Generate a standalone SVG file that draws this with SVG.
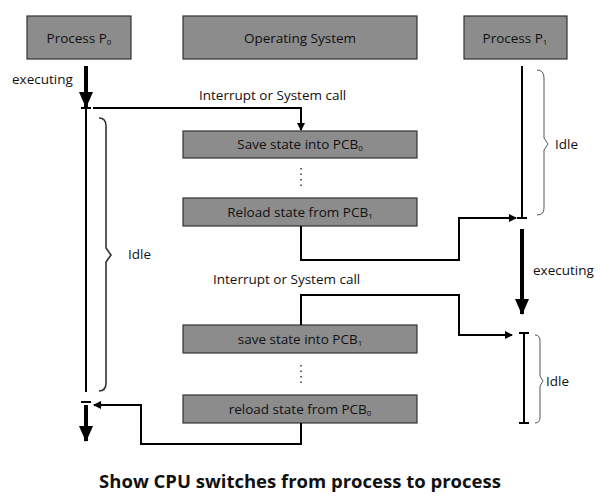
<svg xmlns="http://www.w3.org/2000/svg" width="600" height="500" viewBox="0 0 600 500">
<style>
.box{fill:#8c8c8c;stroke:#333;stroke-width:1.2}
text{font-family:"Open Sans","Liberation Sans",sans-serif;font-size:13.5px;fill:#111}
.c{text-anchor:middle}
.ln{fill:none;stroke:#000;stroke-width:2}
.th{fill:none;stroke:#000;stroke-width:4}
.br{fill:none;stroke:#555;stroke-width:1}
</style>
<defs>
<marker id="a" markerWidth="8" markerHeight="8" refX="7" refY="4" orient="auto" markerUnits="userSpaceOnUse"><path d="M0,0L8,4L0,8z"/></marker>
<marker id="b" markerWidth="16" markerHeight="14" refX="15" refY="7" orient="auto" markerUnits="userSpaceOnUse"><path d="M0,0L16,7L0,14z"/></marker>
</defs>
<rect width="600" height="500" fill="#fff"/>
<g id="p0"><rect class="box" x="27" y="16" width="104" height="43"/><text class="c" x="79" y="43">Process P<tspan font-size="8" dy="2">0</tspan></text></g>
<g id="os"><rect class="box" x="183" y="16" width="234" height="43"/><text class="c" x="300" y="43">Operating System</text></g>
<g id="p1"><rect class="box" x="464" y="16" width="103" height="43"/><text class="c" x="515" y="43">Process P<tspan font-size="8" dy="2">1</tspan></text></g>
<g id="save0"><rect class="box" x="183" y="131" width="234" height="27"/><text class="c" x="300" y="149">Save state into PCB<tspan font-size="8" dy="2">0</tspan></text></g>
<g id="reload1"><rect class="box" x="183" y="198" width="234" height="28"/><text class="c" x="300" y="217">Reload state from PCB<tspan font-size="8" dy="2">1</tspan></text></g>
<g id="save1"><rect class="box" x="183" y="325" width="234" height="28"/><text class="c" x="300" y="344">save state into PCB<tspan font-size="8" dy="2">1</tspan></text></g>
<g id="reload0"><rect class="box" x="183" y="395" width="234" height="28"/><text class="c" x="300" y="414">reload state from PCB<tspan font-size="8" dy="2">0</tspan></text></g>
<g id="connectors">
<line class="th" x1="86" y1="66" x2="86" y2="107" marker-end="url(#b)"/>
<path class="ln" d="M81,108H91M86,108V392M81,402H91"/>
<line class="th" x1="86" y1="405" x2="86" y2="441" marker-end="url(#b)"/>
<path class="ln" d="M93,108H301V130" marker-end="url(#a)"/>
<path class="ln" d="M301,226V260H459V218H516" marker-end="url(#a)"/>
<path class="ln" d="M301,325V295H459V335H512" marker-end="url(#a)"/>
<path class="ln" d="M301,423V444H141V405H94" marker-end="url(#a)"/>
<path class="ln" d="M522,66V218M517,218H527"/>
<line class="th" x1="522" y1="229" x2="522" y2="314" marker-end="url(#b)"/>
<path class="ln" d="M519,333H529M524,333V423M519,423H529"/>
<path d="M301,168V190" stroke="#000" stroke-width="1.2" stroke-dasharray="1.5,4"/>
<path d="M301,365V387" stroke="#000" stroke-width="1.2" stroke-dasharray="1.5,4"/>
<path d="M99,118Q106,118 106,126V248L111,255L106,262V383Q106,391 99,391" fill="none" stroke="#333" stroke-width="1.6"/>
<path class="br" d="M537,70Q544,70 544,78V138L548,144L544,150V208Q544,215 537,215"/>
<path class="br" d="M535,335Q540,335 540,341V376L543,381L540,386V417Q540,423 535,423"/>
</g>
<text x="12" y="84">executing</text>
<text x="199" y="100">Interrupt or System call</text>
<text x="213" y="284">Interrupt or System call</text>
<text x="533" y="275">executing</text>
<text x="128" y="259">Idle</text>
<text x="555" y="149">Idle</text>
<text x="546" y="386">Idle</text>
<text class="c" x="300" y="488" style="font-size:18.5px;font-weight:bold">Show CPU switches from process to process</text>
</svg>
